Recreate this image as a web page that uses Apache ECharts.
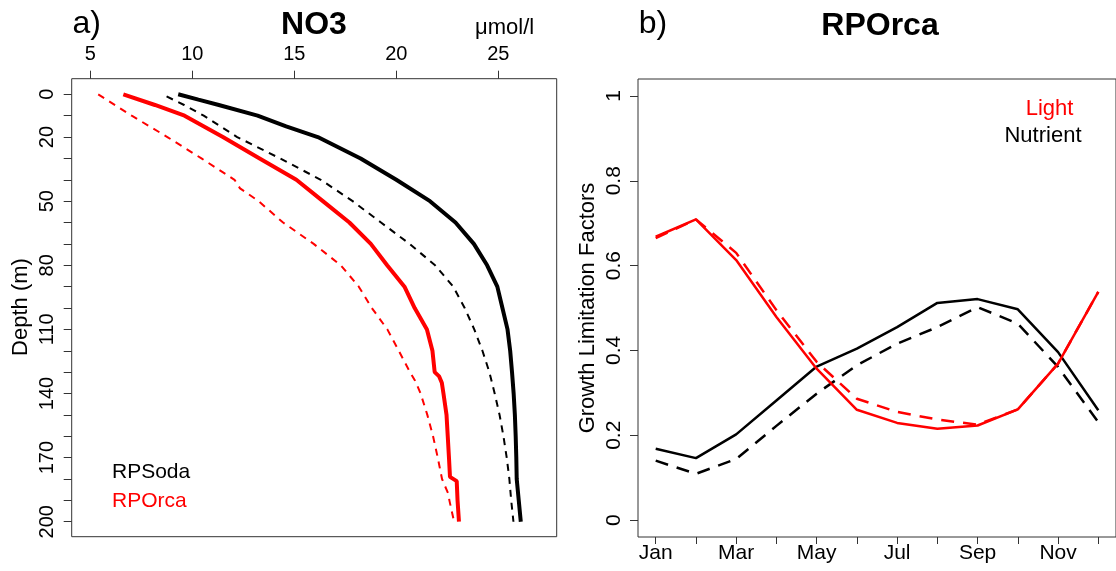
<!DOCTYPE html>
<html>
<head>
<meta charset="utf-8">
<script src="https://cdn.jsdelivr.net/npm/echarts@6/dist/echarts.min.js"></script>
<style>
html,body{margin:0;padding:0;background:#fff;}
#c{width:1116px;height:571px;}
</style>
</head>
<body>
<div id="c"></div>
<script>
// ---------- Panel a) NO3 profiles ----------
const no3Ticks = [5, 10, 15, 20, 25];
const depthTicks = [0,10,20,30,40,50,60,70,80,90,100,110,120,130,140,150,160,170,180,190,200];
const depthLabels = [0, 20, 50, 80, 110, 140, 170, 200];

const sodaSolidDepth = [0,2.5,5,10,15,20,30,40,50,60,70,80,90,100,110,120,130,140,150,160,170,180,190,200];
const sodaSolidNO3   = [9.31,10.3,11.3,13.2,14.6,16.15,18.25,20.0,21.65,22.9,23.8,24.45,24.95,25.2,25.45,25.58,25.67,25.75,25.81,25.85,25.88,25.9,26.0,26.1];

const sodaDashDepth = [1,5,10,20,30,40,50,60,70,80,90,100,110,120,130,140,150,160,170,180,190,200];
const sodaDashNO3   = [8.74,9.6,10.56,12.2,14.3,16.3,17.86,19.25,20.65,21.9,22.79,23.35,23.82,24.22,24.56,24.82,25.06,25.25,25.41,25.54,25.63,25.74];

const orcaSolidDepth = [0,5,10,20,30,40,50,60,70,80,90,100,110,120,130,132,135,140,150,160,170,179,181,190,200];
const orcaSolidNO3   = [6.62,8.17,9.62,11.5,13.3,15.1,16.4,17.7,18.75,19.55,20.4,20.9,21.5,21.77,21.88,22.1,22.23,22.31,22.46,22.52,22.58,22.63,22.96,23.0,23.07];

const orcaDashDepth = [0,10,20,30,40,44,50,60,70,80,90,100,110,120,130,134,140,150,160,170,180,187,190,200];
const orcaDashNO3   = [5.39,7.03,8.78,10.45,12.07,12.34,13.25,14.45,15.95,17.28,18.16,18.8,19.56,20.12,20.67,20.92,21.19,21.52,21.8,22.03,22.24,22.55,22.6,22.83];

// ---------- Panel b) RPOrca growth limitation ----------
const months = [1,2,3,4,5,6,7,8,9,10,11,12];
const monthNames = ['Jan','Feb','Mar','Apr','May','Jun','Jul','Aug','Sep','Oct','Nov','Dec'];
const monthLabelValues = [1,3,5,7,9,11];
const factorTicks = [0, 0.2, 0.4, 0.6, 0.8, 1];
const nutrientSolid  = [0.168,0.146,0.202,0.282,0.362,0.404,0.455,0.512,0.521,0.497,0.396,0.259];
const nutrientDashed = [0.140,0.109,0.144,0.222,0.298,0.365,0.416,0.455,0.502,0.463,0.361,0.231];
const lightSolid     = [0.668,0.709,0.613,0.479,0.357,0.260,0.229,0.215,0.223,0.261,0.369,0.538];
const lightDashed    = [0.665,0.709,0.630,0.495,0.373,0.286,0.255,0.237,0.225,0.261,0.369,0.538];

const FONT = 'Liberation Sans, Arial, sans-serif';
const zip = (a, b) => a.map((v, i) => [v, b[i]]);

const chart = echarts.init(document.getElementById('c'), null, {renderer: 'canvas'});

const axisLine = {show: false, onZero: false};
const tick = {show: true, length: 8, lineStyle: {color: '#333', width: 1}};

const option = {
  animation: false,
  backgroundColor: '#fff',
  grid: [
    {left: 71.7, top: 78.7, width: 485, height: 458, show: true, borderColor: '#333', borderWidth: 1, containLabel: false},
    {left: 638, top: 79, width: 487, height: 458, show: true, borderColor: '#333', borderWidth: 1, containLabel: false}
  ],
  xAxis: [
    {
      type: 'value', gridIndex: 0, position: 'top', min: 4.09, max: 27.86,
      axisLine: axisLine, splitLine: {show: false},
      axisTick: Object.assign({}, tick, {customValues: no3Ticks}),
      axisLabel: {customValues: no3Ticks, margin: 14, fontSize: 20, color: '#000', fontFamily: FONT}
    },
    {
      type: 'value', gridIndex: 1, position: 'bottom', min: 0.56, max: 12.44,
      axisLine: axisLine, splitLine: {show: false},
      axisTick: Object.assign({}, tick, {length: 7, customValues: months}),
      axisLabel: {customValues: monthLabelValues, margin: 6, fontSize: 21, color: '#000', fontFamily: FONT,
                  formatter: v => monthNames[Math.round(v) - 1]}
    }
  ],
  yAxis: [
    {
      type: 'value', gridIndex: 0, inverse: true, min: -7.3, max: 207,
      axisLine: axisLine, splitLine: {show: false},
      axisTick: Object.assign({}, tick, {customValues: depthTicks}),
      axisLabel: {customValues: depthLabels, rotate: 90, margin: 14, fontSize: 20, color: '#000', fontFamily: FONT}
    },
    {
      type: 'value', gridIndex: 1, min: -0.04, max: 1.04,
      axisLine: axisLine, splitLine: {show: false},
      axisTick: Object.assign({}, tick, {customValues: factorTicks}),
      axisLabel: {customValues: factorTicks, rotate: 90, margin: 13, fontSize: 21, color: '#000', fontFamily: FONT}
    }
  ],
  series: [
    {type: 'line', xAxisIndex: 0, yAxisIndex: 0, symbol: 'none', data: zip(orcaDashNO3, orcaDashDepth),
     lineStyle: {color: '#ff0000', width: 2, type: [7, 6]}},
    {type: 'line', xAxisIndex: 0, yAxisIndex: 0, symbol: 'none', data: zip(sodaDashNO3, sodaDashDepth),
     lineStyle: {color: '#000', width: 2, type: [7, 6]}},
    {type: 'line', xAxisIndex: 0, yAxisIndex: 0, symbol: 'none', data: zip(orcaSolidNO3, orcaSolidDepth),
     lineStyle: {color: '#ff0000', width: 4}},
    {type: 'line', xAxisIndex: 0, yAxisIndex: 0, symbol: 'none', data: zip(sodaSolidNO3, sodaSolidDepth),
     lineStyle: {color: '#000', width: 4}},

    {type: 'line', xAxisIndex: 1, yAxisIndex: 1, symbol: 'none', data: zip(months, nutrientDashed),
     lineStyle: {color: '#000', width: 2.5, type: [13, 9]}},
    {type: 'line', xAxisIndex: 1, yAxisIndex: 1, symbol: 'none', data: zip(months, nutrientSolid),
     lineStyle: {color: '#000', width: 2.5}},
    {type: 'line', xAxisIndex: 1, yAxisIndex: 1, symbol: 'none', data: zip(months, lightDashed),
     lineStyle: {color: '#ff0000', width: 2.5, type: [13, 9]}},
    {type: 'line', xAxisIndex: 1, yAxisIndex: 1, symbol: 'none', data: zip(months, lightSolid),
     lineStyle: {color: '#ff0000', width: 2.5}}
  ],
  graphic: [
    {type: 'text', x: 86.7, y: 24, style: {text: 'a)', font: '32px ' + FONT, fill: '#000', align: 'center', verticalAlign: 'middle'}},
    {type: 'text', x: 314, y: 25.5, style: {text: 'NO3', font: 'bold 32px ' + FONT, fill: '#000', align: 'center', verticalAlign: 'middle'}},
    {type: 'text', x: 504.6, y: 28, style: {text: 'μmol/l', font: '22px ' + FONT, fill: '#000', align: 'center', verticalAlign: 'middle'}},
    {type: 'text', x: 653, y: 24, style: {text: 'b)', font: '32px ' + FONT, fill: '#000', align: 'center', verticalAlign: 'middle'}},
    {type: 'text', x: 880, y: 25.8, style: {text: 'RPOrca', font: 'bold 32px ' + FONT, fill: '#000', align: 'center', verticalAlign: 'middle'}},
    {type: 'text', x: 21, y: 307, rotation: Math.PI / 2, style: {text: 'Depth (m)', font: '22px ' + FONT, fill: '#000', align: 'center', verticalAlign: 'middle'}},
    {type: 'text', x: 588, y: 308, rotation: Math.PI / 2, style: {text: 'Growth Limitation Factors', font: '22px ' + FONT, fill: '#000', align: 'center', verticalAlign: 'middle'}},
    {type: 'text', x: 112, y: 472.6, style: {text: 'RPSoda', font: '21px ' + FONT, fill: '#000', align: 'left', verticalAlign: 'middle'}},
    {type: 'text', x: 112, y: 501, style: {text: 'RPOrca', font: '21px ' + FONT, fill: '#ff0000', align: 'left', verticalAlign: 'middle'}},
    {type: 'text', x: 1049.5, y: 109, style: {text: 'Light', font: '22px ' + FONT, fill: '#ff0000', align: 'center', verticalAlign: 'middle'}},
    {type: 'text', x: 1043, y: 136.3, style: {text: 'Nutrient', font: '22px ' + FONT, fill: '#000', align: 'center', verticalAlign: 'middle'}}
  ]
};
chart.setOption(option);
</script>
</body>
</html>
